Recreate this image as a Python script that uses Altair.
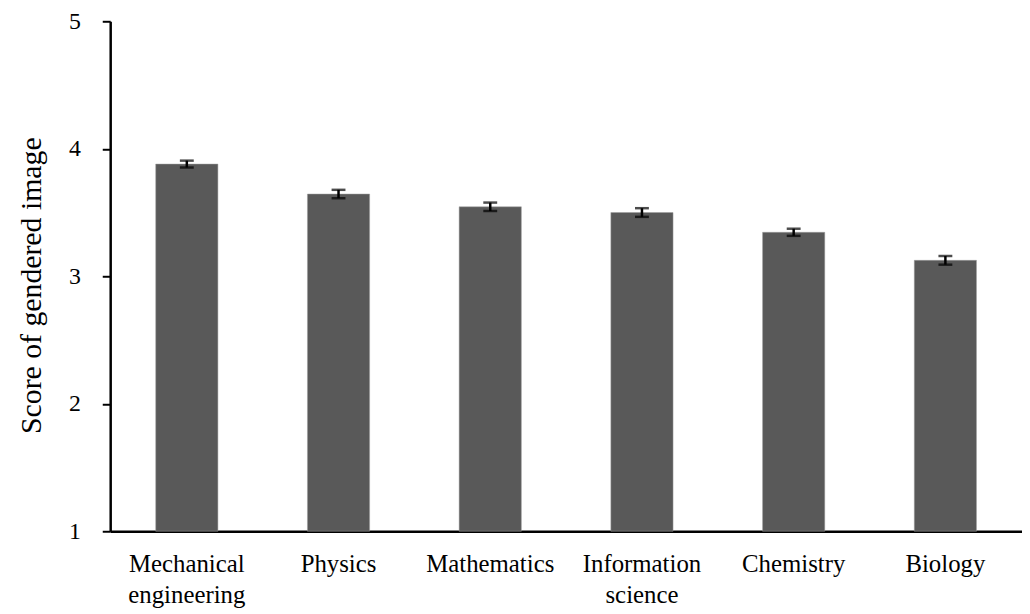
import altair as alt
import pandas as pd

subjects = ["Mechanical engineering", "Physics", "Mathematics",
            "Information science", "Chemistry", "Biology"]
scores = [3.88, 3.645, 3.545, 3.50, 3.345, 3.125]
errors = [0.027, 0.033, 0.033, 0.034, 0.028, 0.034]

df = pd.DataFrame({
    "subject": subjects,
    "score": scores,
    "lo": [s - e for s, e in zip(scores, errors)],
    "hi": [s + e for s, e in zip(scores, errors)],
})

FONT = "Liberation Serif"

x = alt.X("subject:N", sort=subjects, title=None,
          scale=alt.Scale(paddingInner=0.59, paddingOuter=0.3),
          axis=alt.Axis(labelAngle=0, labelExpr="split(datum.label, ' ')",
                        labelFont=FONT, labelFontSize=25, labelColor="black",
                        labelPadding=21, labelLineHeight=31, ticks=False,
                        domainColor="black", domainWidth=2.5))
yscale = alt.Scale(domain=[1, 5], zero=False, nice=False)

bars = alt.Chart(df).mark_bar(color="#595959", stroke="#a0a0a0", strokeWidth=0.5).encode(
    x=x,
    y=alt.Y("score:Q", scale=yscale, title="Score of gendered image",
            axis=alt.Axis(values=[1, 2, 3, 4, 5], format="d", grid=False,
                          labelFont=FONT, labelFontSize=24, labelColor="black",
                          labelPadding=22, tickSize=8, tickColor="black", tickWidth=2,
                          domainColor="black", domainWidth=2.5,
                          titleFont=FONT, titleFontSize=30, titleFontWeight="normal",
                          titleColor="black", titlePadding=22, titleY=266)),
    y2=alt.datum(1),
)

rules = alt.Chart(df).mark_rule(color="black", strokeWidth=2.5).encode(
    x=alt.X("subject:N", sort=subjects),
    y=alt.Y("lo:Q", scale=yscale),
    y2="hi:Q",
)
caps_lo = alt.Chart(df).mark_tick(color="black", size=14, thickness=2.5).encode(
    x=alt.X("subject:N", sort=subjects),
    y=alt.Y("lo:Q", scale=yscale),
)
caps_hi = alt.Chart(df).mark_tick(color="black", size=14, thickness=2.5).encode(
    x=alt.X("subject:N", sort=subjects),
    y=alt.Y("hi:Q", scale=yscale),
)

chart = alt.layer(bars, rules, caps_lo, caps_hi).properties(
    width=919, height=514,
    background="white",
    view=alt.ViewBackground(strokeOpacity=0, strokeWidth=0),
    autosize=alt.AutoSizeParams(type="none"),
    padding={"left": 103, "top": 11, "right": 0, "bottom": 80},
).configure_view(strokeWidth=0, strokeOpacity=0).configure_axis(
    grid=False
)

chart.save("out.html", embed_options={"renderer": "svg", "actions": False})
